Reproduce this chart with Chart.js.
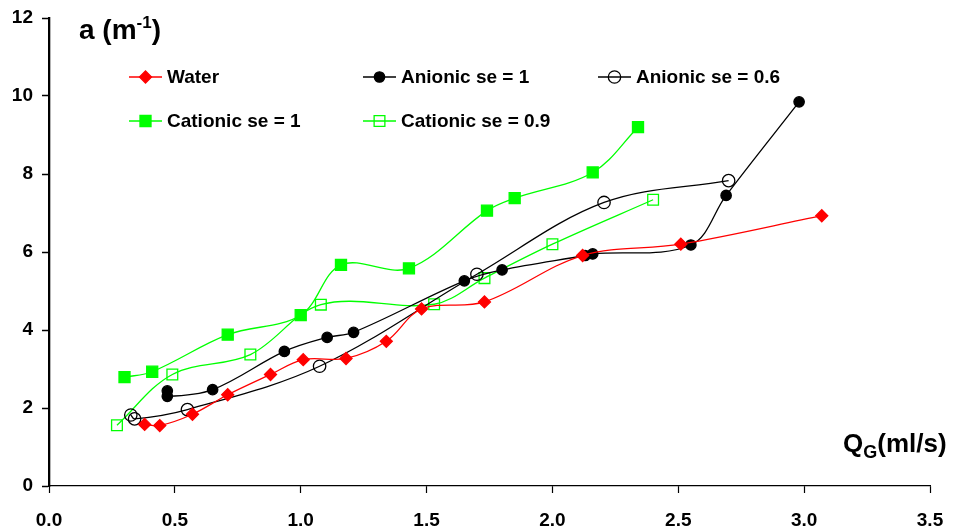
<!DOCTYPE html>
<html>
<head>
<meta charset="utf-8">
<script src="https://cdn.jsdelivr.net/npm/chart.js@4.4.1/dist/chart.umd.min.js"></script>
<style>
  body { margin: 0; background: #fff; }
  #wrap { position: relative; width: 956px; height: 531px; }
  .ttl { position: absolute; font-family: Arial, "Liberation Sans", sans-serif; font-weight: bold; color: #000; white-space: nowrap; }
  #yTitle { left: 79px; top: 13px; font-size: 28px; }
  #xTitle { left: 843px; top: 428px; font-size: 26px; }
  .ttl sup { font-size: 17px; vertical-align: 11px; }
  .ttl sub { font-size: 18px; vertical-align: -6px; }
</style>
</head>
<body>
<div id="wrap">
  <canvas id="chart" width="956" height="531"></canvas>
  <div class="ttl" id="yTitle">a (m<sup>-1</sup>)</div>
  <div class="ttl" id="xTitle">Q<sub>G</sub>(ml/s)</div>
</div>
<script>
// values
const waterX = [0.38, 0.44, 0.57, 0.71, 0.88, 1.01, 1.18, 1.34, 1.48, 1.73, 2.12, 2.51, 3.07];
const waterY = [1.58, 1.55, 1.84, 2.34, 2.86, 3.24, 3.27, 3.71, 4.54, 4.72, 5.91, 6.20, 6.93];

const anion1X = [0.47, 0.47, 0.65, 0.935, 1.105, 1.21, 1.65, 1.80, 2.13, 2.16, 2.55, 2.69, 2.98];
const anion1Y = [2.44, 2.30, 2.47, 3.45, 3.81, 3.94, 5.26, 5.54, 5.91, 5.95, 6.18, 7.45, 9.85];

const anion06X = [0.325, 0.34, 0.55, 1.075, 1.70, 2.205, 2.70];
const anion06Y = [1.82, 1.72, 1.96, 3.07, 5.43, 7.27, 7.83];

const cation1X = [0.30, 0.41, 0.71, 1.00, 1.16, 1.43, 1.74, 1.85, 2.16, 2.34];
const cation1Y = [2.79, 2.93, 3.88, 4.38, 5.67, 5.58, 7.06, 7.38, 8.04, 9.20];

const cation09X = [0.27, 0.49, 0.80, 1.08, 1.53, 1.73, 2.00, 2.40];
const cation09Y = [1.56, 2.86, 3.37, 4.65, 4.66, 5.33, 6.20, 7.34];

const xTicks = [0, 0.5, 1, 1.5, 2, 2.5, 3, 3.5];
const yTicks = [0, 2, 4, 6, 8, 10, 12];

function pts(xs, ys) {
  return xs.map((x, i) => ({ x: x, y: ys[i] }));
}

const FONT = 'Arial, "Liberation Sans", sans-serif';

const datasets = [
  { label: "Water", data: pts(waterX, waterY), borderColor: "#ff0000", backgroundColor: "#ff0000",
    pointStyle: "rectRot", pointRadius: 6, legX: 129, legY: 77 },
  { label: "Anionic se = 1", data: pts(anion1X, anion1Y), borderColor: "#000000", backgroundColor: "#000000",
    pointStyle: "circle", pointRadius: 5.2, legX: 363, legY: 77 },
  { label: "Anionic se = 0.6", data: pts(anion06X, anion06Y), borderColor: "#000000", backgroundColor: "rgba(0,0,0,0)",
    pointStyle: "circle", pointRadius: 6.2, legX: 598, legY: 77 },
  { label: "Cationic se = 1", data: pts(cation1X, cation1Y), borderColor: "#00ff00", backgroundColor: "#00ff00",
    pointStyle: "rect", pointRadius: 7.8, legX: 129, legY: 121 },
  { label: "Cationic se = 0.9", data: pts(cation09X, cation09Y), borderColor: "#00ff00", backgroundColor: "rgba(0,0,0,0)",
    pointStyle: "rect", pointRadius: 7.6, legX: 363, legY: 121 }
];

datasets.forEach((d) => {
  d.borderWidth = 1.3;
  d.pointBorderWidth = 1.3;
  d.pointBorderColor = d.borderColor;
  d.pointBackgroundColor = d.backgroundColor;
  d.tension = 0.35;
  d.fill = false;
  d.pointHoverRadius = d.pointRadius;
});

// legend placed inside the plot like the original
const legendPlugin = {
  id: "innerLegend",
  afterDatasetsDraw(chart) {
    const ctx = chart.ctx;
    ctx.save();
    chart.data.datasets.forEach((d) => {
      const x = d.legX, y = d.legY;
      ctx.strokeStyle = d.borderColor;
      ctx.lineWidth = 1.3;
      ctx.beginPath();
      ctx.moveTo(x, y);
      ctx.lineTo(x + 33, y);
      ctx.stroke();
      ctx.fillStyle = d.backgroundColor;
      ctx.lineWidth = 1.3;
      Chart.helpers.drawPoint(ctx, { pointStyle: d.pointStyle, radius: d.pointRadius, borderWidth: 1.3 }, x + 16.5, y);
      ctx.fillStyle = "#000";
      ctx.font = "bold 19px " + FONT;
      ctx.textBaseline = "middle";
      ctx.textAlign = "left";
      ctx.fillText(d.label, x + 38, y + 1);
    });
    ctx.restore();
  }
};

new Chart(document.getElementById("chart"), {
  type: "line",
  data: { datasets: datasets },
  plugins: [legendPlugin],
  options: {
    responsive: false,
    animation: false,
    layout: { padding: { top: 18, right: 26, left: 0, bottom: 0 } },
    plugins: { legend: { display: false }, tooltip: { enabled: false } },
    scales: {
      x: {
        type: "linear",
        min: 0,
        max: 3.5,
        afterFit(s) { s.height = 45; s.paddingLeft = 0; s.paddingRight = 0; },
        afterBuildTicks(s) { s.ticks = xTicks.map((v) => ({ value: v })); },
        border: { display: true, color: "#000", width: 1.2 },
        grid: { drawOnChartArea: false, drawTicks: true, tickLength: 7, color: "#000", tickColor: "#000", tickWidth: 1.2 },
        ticks: {
          color: "#000",
          padding: 16,
          font: { family: FONT, size: 19, weight: "bold" },
          callback: (v) => Number(v).toFixed(1)
        }
      },
      y: {
        type: "linear",
        min: 0,
        max: 12,
        afterFit(s) { s.width = 49; s.paddingTop = 0; s.paddingBottom = 0; },
        afterBuildTicks(s) { s.ticks = yTicks.map((v) => ({ value: v })); },
        border: { display: true, color: "#000", width: 2.3 },
        grid: { drawOnChartArea: false, drawTicks: true, tickLength: 7, color: "#000", tickColor: "#000", tickWidth: 1.5 },
        ticks: {
          color: "#000",
          padding: 9,
          font: { family: FONT, size: 19, weight: "bold" },
          callback: (v) => String(v)
        }
      }
    }
  }
});
</script>
</body>
</html>
